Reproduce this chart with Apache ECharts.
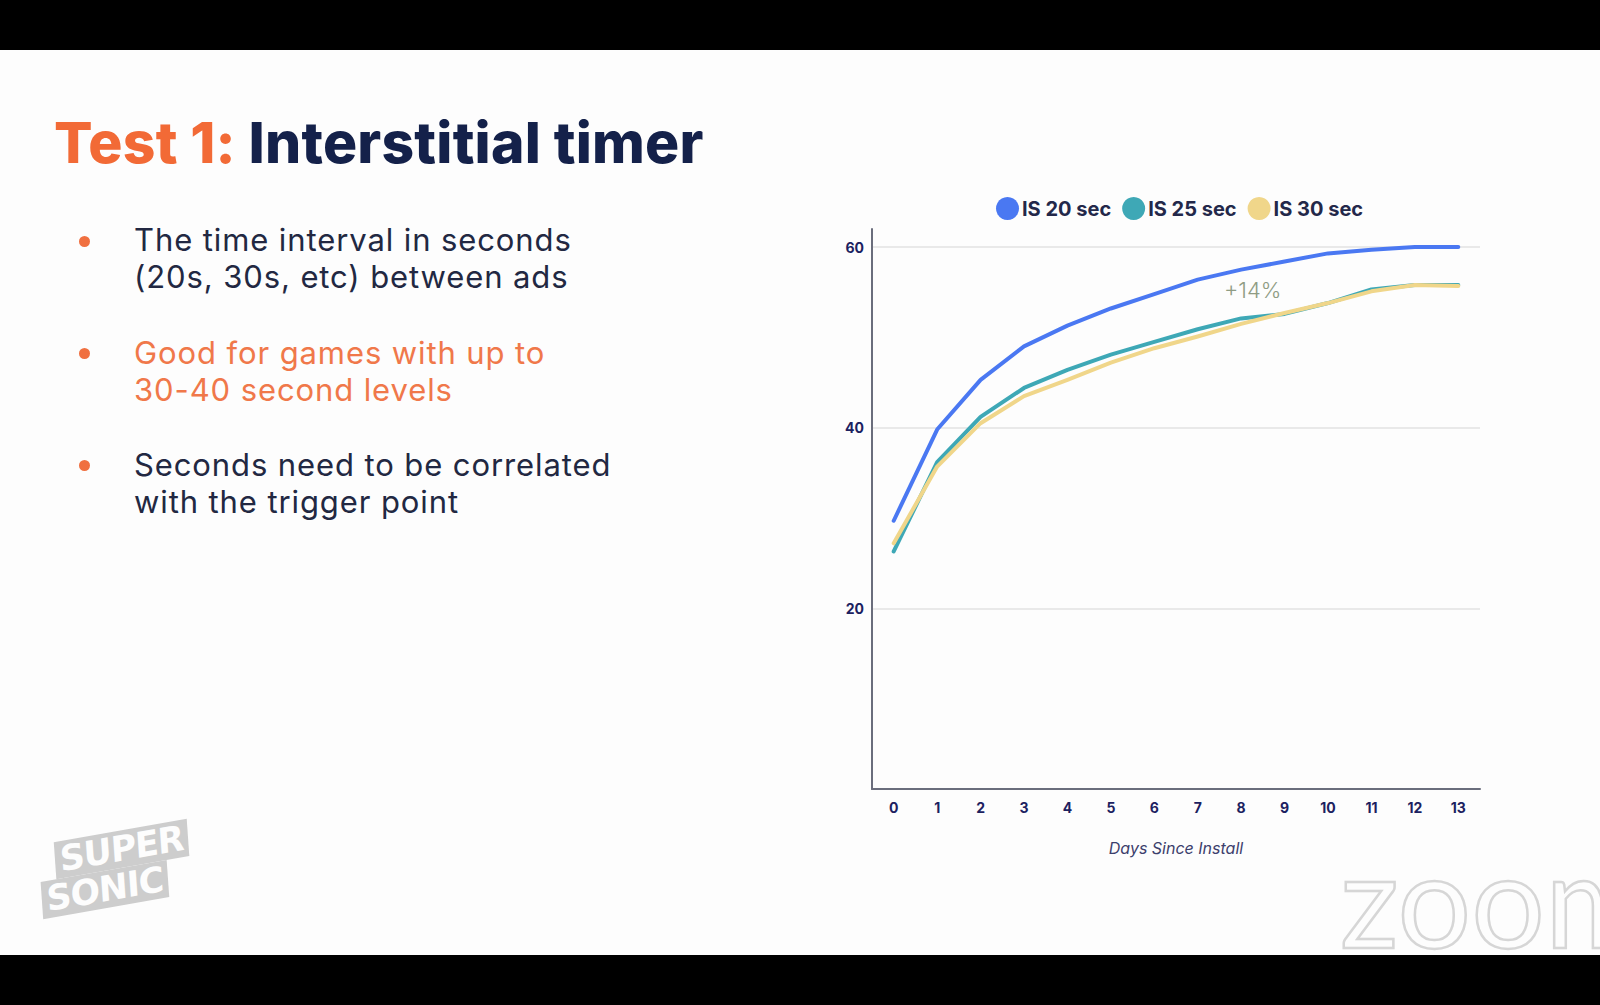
<!DOCTYPE html>
<html>
<head>
<meta charset="utf-8">
<script src="https://cdn.jsdelivr.net/npm/echarts@6/dist/echarts.min.js"></script>
<style>
  html, body { margin: 0; padding: 0; width: 1600px; height: 1005px; overflow: hidden; background: #000; }
  #slide { position: absolute; left: 0; top: 50px; width: 1600px; height: 905px; background: #fdfdfd; overflow: hidden; }
  #chart { position: absolute; left: 0; top: 0; width: 1600px; height: 1005px; }
  .txt { position: absolute; white-space: nowrap; font-family: "Inter", "Open Sans", sans-serif; }
  #title { left: 54px; top: 108px; font-size: 57px; font-weight: 800; letter-spacing: 0.2px; color: #14214a; }
  #title .o { color: #f26a36; }
  .bl { font-size: 31px; font-weight: 400; color: #222842; line-height: 37px; left: 134px; letter-spacing: 0.9px; }
  .bl.or { color: #f0784a; }
  .dot { position: absolute; width: 11px; height: 11px; border-radius: 50%; background: #f07040; left: 79px; }
  #logo { position: absolute; left: 38px; top: 845px; transform: rotate(-10deg) skewX(-6deg); transform-origin: left top; }
  #logo div { background: #cdcdcd; color: #fdfdfd; font-family: "DejaVu Sans", sans-serif; font-weight: 900; font-size: 35px; line-height: 37px; padding: 0 5px; display: inline-block; letter-spacing: -1px; }
  #zoomwm { position: absolute; left: 1340px; top: 820px; font-family: "Lato", "DejaVu Sans", sans-serif; font-size: 130px; font-weight: 400; color: #fdfdfd; -webkit-text-stroke: 2.5px #d6d6d6; letter-spacing: 0px; }
</style>
</head>
<body>
<div id="slide"></div>
<div id="chart"></div>
<div class="txt" id="title"><span class="o">Test 1:</span> Interstitial timer</div>
<div class="dot" style="top:236px"></div>
<div class="txt bl" style="top:221px">The time interval in seconds</div>
<div class="txt bl" style="top:258px">(20s, 30s, etc) between ads</div>
<div class="dot" style="top:348px"></div>
<div class="txt bl or" style="top:334px">Good for games with up to</div>
<div class="txt bl or" style="top:371px">30-40 second levels</div>
<div class="dot" style="top:460px"></div>
<div class="txt bl" style="top:446px">Seconds need to be correlated</div>
<div class="txt bl" style="top:483px">with the trigger point</div>
<div id="logo"><div style="margin-left:16px">SUPER</div><br><div>SONIC</div></div>
<div class="txt" id="zoomwm">zoom</div>
<script>
const days = ['0','1','2','3','4','5','6','7','8','9','10','11','12','13'];
const seriesNames = ['IS 20 sec', 'IS 25 sec', 'IS 30 sec'];
const is20 = [29.7, 39.8, 45.3, 49.0, 51.3, 53.2, 54.8, 56.4, 57.5, 58.4, 59.3, 59.7, 60.0, 60.0];
const is25 = [26.3, 36.2, 41.2, 44.4, 46.4, 48.1, 49.5, 50.9, 52.1, 52.6, 53.8, 55.3, 55.8, 55.8];
const is30 = [27.2, 35.7, 40.5, 43.5, 45.3, 47.2, 48.8, 50.1, 51.5, 52.7, 53.8, 55.1, 55.8, 55.7];
const yTicks = [0, 20, 40, 60];
const annotation = '+14%';

const colors = ['#4a78f2', '#3ea8b6', '#f0d68a'];
const chart = echarts.init(document.getElementById('chart'), null, { renderer: 'svg' });
const mk = (name, data, i) => ({
  name, type: 'line', data, symbol: 'none', smooth: false,
  lineStyle: { width: 4, color: colors[i], cap: 'round', join: 'round' },
  itemStyle: { color: colors[i] }, z: 3 + i
});
chart.setOption({
  backgroundColor: 'transparent',
  animation: false,
  legend: {
    left: 991, top: 192, icon: 'circle', itemWidth: 23, itemHeight: 23, itemGap: 11,
    textStyle: { fontFamily: 'Inter', fontWeight: 'bold', fontSize: 20, color: '#23284a', padding: [0, 0, 0, -2] },
    data: seriesNames
  },
  grid: { left: 872, right: 120, top: 229, bottom: 216, containLabel: false },
  xAxis: {
    type: 'category', data: days, boundaryGap: true,
    axisLine: { lineStyle: { color: '#6a6d7c', width: 2 } },
    axisTick: { show: false },
    axisLabel: { margin: 11, fontFamily: 'Inter', fontWeight: 'bold', fontSize: 14, color: '#1c2160' },
    name: 'Days Since Install', nameLocation: 'middle', nameGap: 51,
    nameTextStyle: { fontFamily: 'Inter', fontStyle: 'italic', fontSize: 16, color: '#3c406c' }
  },
  yAxis: {
    type: 'value', min: 0, max: 62, interval: 20,
    axisLine: { show: true, lineStyle: { color: '#6a6d7c', width: 2 } },
    axisTick: { show: false },
    splitLine: { show: true, showMinLine: false, showMaxLine: false, lineStyle: { color: '#e2e2e2', width: 1.5 } },
    axisLabel: {
      margin: 8, fontFamily: 'Inter', fontWeight: 'bold', fontSize: 14, color: '#1c2160',
      formatter: v => (yTicks.indexOf(v) > 0 ? String(v) : '')
    }
  },
  graphic: [{
    type: 'text', left: 1224, top: 279, z: 10,
    style: { text: annotation, fontFamily: 'Inter', fontWeight: 300, fontSize: 22, fill: '#8f9c84' }
  }],
  series: [mk(seriesNames[0], is20, 0), mk(seriesNames[1], is25, 1), mk(seriesNames[2], is30, 2)]
});
</script>
</body>
</html>
